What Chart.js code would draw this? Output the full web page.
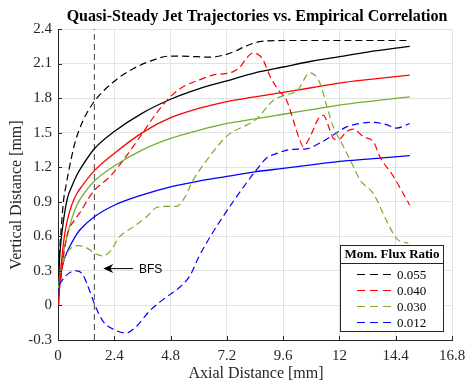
<!DOCTYPE html>
<html><head><meta charset="utf-8">
<script src="https://cdn.jsdelivr.net/npm/chart.js@4.4.1/dist/chart.umd.min.js"></script>
<style>html,body{margin:0;padding:0;background:#fff}</style>
</head><body>
<canvas id="c" width="465" height="382" style="width:465px;height:382px;display:block"></canvas>
<script>
// ---- Data ----
const chartTitle = 'Quasi-Steady Jet Trajectories vs. Empirical Correlation';
const xAxisTitle = 'Axial Distance [mm]';
const yAxisTitle = 'Vertical Distance [mm]';
const xTicks = [0, 2.4, 4.8, 7.2, 9.6, 12, 14.4, 16.8];
const xTickLabels = ['0', '2.4', '4.8', '7.2', '9.6', '12', '14.4', '16.8'];
const yTicks = [-0.3, 0, 0.3, 0.6, 0.9, 1.2, 1.5, 1.8, 2.1, 2.4];
const yTickLabels = ['-0.3', '0', '0.3', '0.6', '0.9', '1.2', '1.5', '1.8', '2.1', '2.4'];
const seriesNames = ['0.055', '0.040', '0.030', '0.012'];
const legendTitle = 'Mom. Flux Ratio';

// empirical correlation (solid)
const corrX = [0.03, 0.08, 0.15, 0.25, 0.4, 0.6, 0.8, 1.0, 1.55, 2.4, 3.6, 4.8, 6, 7.2, 8.4, 9.6, 10.8, 12, 13.2, 15];
const corr055 = [0.25, 0.45, 0.60, 0.76, 0.93, 1.04, 1.13, 1.20, 1.36, 1.51, 1.67, 1.79, 1.88, 1.95, 2.02, 2.07, 2.12, 2.16, 2.20, 2.25];
const corr040 = [0.00, 0.20, 0.38, 0.57, 0.74, 0.88, 0.97, 1.03, 1.17, 1.32, 1.50, 1.63, 1.71, 1.77, 1.81, 1.85, 1.89, 1.93, 1.96, 2.00];
const corr030 = [0.15, 0.25, 0.36, 0.48, 0.61, 0.76, 0.87, 0.94, 1.08, 1.21, 1.35, 1.45, 1.52, 1.58, 1.62, 1.66, 1.70, 1.74, 1.77, 1.81];
const corr012 = [0.08, 0.20, 0.30, 0.39, 0.47, 0.55, 0.62, 0.67, 0.77, 0.87, 0.96, 1.03, 1.08, 1.12, 1.16, 1.19, 1.22, 1.25, 1.27, 1.30];

// quasi-steady trajectories (dashed)
const exp055X = [0.05, 0.13, 0.23, 0.35, 0.44, 0.72, 1.08, 1.58, 2.36, 3.07, 3.92, 4.78, 5.9, 6.4, 7.0, 7.47, 8.0, 8.6, 9.6, 12, 15];
const exp055Y = [0.42, 0.65, 0.90, 1.05, 1.15, 1.41, 1.61, 1.78, 1.94, 2.04, 2.12, 2.165, 2.16, 2.155, 2.17, 2.20, 2.25, 2.29, 2.30, 2.30, 2.30];
const exp040X = [0.12, 0.25, 0.4, 0.7, 0.95, 1.3, 1.55, 2.22, 2.78, 3.5, 4.2, 4.78, 5.35, 6.05, 6.6, 7.2, 7.47, 7.76, 8.05, 8.3, 8.6, 8.75, 9.04, 9.4, 9.75, 10.03, 10.3, 10.46, 10.75, 11.1, 11.31, 11.6, 11.74, 11.95, 12.31, 12.6, 13.02, 13.45, 13.73, 14.3, 15.0];
const exp040Y = [0.22, 0.45, 0.62, 0.74, 0.81, 0.93, 1.00, 1.12, 1.26, 1.465, 1.67, 1.81, 1.90, 1.96, 2.00, 2.015, 2.03, 2.07, 2.15, 2.19, 2.17, 2.13, 1.99, 1.87, 1.78, 1.61, 1.44, 1.38, 1.465, 1.62, 1.65, 1.52, 1.45, 1.44, 1.51, 1.53, 1.465, 1.42, 1.29, 1.12, 0.87];
const exp030X = [0.08, 0.37, 0.87, 1.22, 1.58, 1.93, 2.22, 2.64, 3.2, 3.78, 4.2, 4.63, 5.06, 5.35, 5.77, 6.34, 7.2, 8.47, 9.18, 9.75, 10.18, 10.75, 11.17, 11.46, 11.74, 12.17, 12.6, 12.88, 13.45, 14.0, 14.44, 14.94];
const exp030Y = [0.28, 0.45, 0.52, 0.50, 0.45, 0.43, 0.47, 0.60, 0.68, 0.77, 0.85, 0.86, 0.86, 0.92, 1.09, 1.26, 1.47, 1.62, 1.78, 1.83, 1.86, 2.02, 1.93, 1.73, 1.55, 1.38, 1.205, 1.09, 0.97, 0.74, 0.58, 0.54];
const exp012X = [0.05, 0.3, 0.55, 0.8, 1.05, 1.25, 1.6, 1.93, 2.4, 2.9, 3.3, 3.9, 4.6, 5.2, 5.63, 6.0, 6.5, 7.0, 7.5, 8.47, 8.9, 9.33, 10.0, 10.6, 11.17, 11.74, 12.31, 12.88, 13.45, 14.0, 14.44, 15.0];
const exp012Y = [0.18, 0.25, 0.29, 0.30, 0.27, 0.18, -0.01, -0.14, -0.21, -0.24, -0.19, -0.05, 0.07, 0.16, 0.26, 0.42, 0.60, 0.76, 0.91, 1.18, 1.28, 1.32, 1.355, 1.36, 1.41, 1.48, 1.55, 1.58, 1.59, 1.57, 1.54, 1.58];

const bfsX = 1.55;            // backward-facing step location
const bfsLineY = [-0.3, 2.4];
const bfsLabel = 'BFS';
const bfsArrow = {x0: 3.2, x1: 1.93, y: 0.32, textX: 3.45};

const colors = ['#000000', '#ff0000', '#77ac30', '#0000ff'];

// ---- Build ----
const pts = (xs, ys) => xs.map((x, i) => ({x: x, y: ys[i]}));
const corrY = [corr055, corr040, corr030, corr012];
const expXs = [exp055X, exp040X, exp030X, exp012X];
const expYs = [exp055Y, exp040Y, exp030Y, exp012Y];

const datasets = [];
datasets.push({
  label: 'BFS', data: [{x: bfsX, y: bfsLineY[0]}, {x: bfsX, y: bfsLineY[1]}],
  borderColor: '#404040', borderWidth: 1, borderDash: [6, 4], pointRadius: 0, order: 10
});
for (let i = 0; i < 4; i++) {
  datasets.push({
    label: 'corr ' + seriesNames[i], data: pts(corrX, corrY[i]),
    borderColor: colors[i], borderWidth: 1.3, pointRadius: 0, cubicInterpolationMode: 'monotone', order: 5
  });
}
for (let i = 0; i < 4; i++) {
  datasets.push({
    label: seriesNames[i], data: pts(expXs[i], expYs[i]),
    borderColor: colors[i], borderWidth: 1.2, borderDash: [7, 4], pointRadius: 0, cubicInterpolationMode: 'monotone', order: 1
  });
}

const SERIF = '"Liberation Serif", "Times New Roman", serif';
const SANS = '"Liberation Sans", Arial, sans-serif';

const overlay = {
  id: 'overlay',
  afterDraw(chart) {
    const ctx = chart.ctx;
    const xs = chart.scales.x, ys = chart.scales.y;
    const ca = chart.chartArea;
    ctx.save();
    // inward ticks
    ctx.strokeStyle = '#262626'; ctx.lineWidth = 1; ctx.setLineDash([]);
    xTicks.forEach(v => {
      const px = Math.round(xs.getPixelForValue(v)) + 0.5;
      ctx.beginPath(); ctx.moveTo(px, ca.bottom); ctx.lineTo(px, ca.bottom - 4); ctx.stroke();
    });
    yTicks.forEach(v => {
      const py = Math.round(ys.getPixelForValue(v)) + 0.5;
      ctx.beginPath(); ctx.moveTo(ca.left, py); ctx.lineTo(ca.left + 4, py); ctx.stroke();
    });
    // title
    ctx.fillStyle = '#000';
    ctx.font = 'bold 16px ' + SERIF;
    ctx.textAlign = 'center'; ctx.textBaseline = 'middle';
    ctx.fillText(chartTitle, 257, 17);
    // axis titles
    ctx.fillStyle = '#262626';
    ctx.font = '16px ' + SERIF;
    ctx.fillText(xAxisTitle, 256, 374);
    ctx.save();
    ctx.translate(17, 195); ctx.rotate(-Math.PI / 2);
    ctx.fillText(yAxisTitle, 0, 0);
    ctx.restore();
    // BFS arrow
    const ax0 = xs.getPixelForValue(bfsArrow.x0), ax1 = xs.getPixelForValue(bfsArrow.x1);
    const ay = ys.getPixelForValue(bfsArrow.y);
    ctx.strokeStyle = '#000'; ctx.lineWidth = 1;
    ctx.beginPath(); ctx.moveTo(ax0, ay); ctx.lineTo(ax1 + 6, ay); ctx.stroke();
    ctx.fillStyle = '#000';
    ctx.beginPath();
    ctx.moveTo(ax1, ay); ctx.lineTo(ax1 + 10, ay - 4.5); ctx.lineTo(ax1 + 7, ay); ctx.lineTo(ax1 + 10, ay + 4.5);
    ctx.closePath(); ctx.fill();
    ctx.font = '12px ' + SANS; ctx.textAlign = 'left';
    ctx.fillText(bfsLabel, xs.getPixelForValue(bfsArrow.textX), ay + 1);
    // legend
    const lx = 340.5, ly = 245.5, lw = 103, lh = 86;
    ctx.fillStyle = '#fff'; ctx.fillRect(lx, ly, lw, lh);
    ctx.strokeStyle = '#262626'; ctx.lineWidth = 1;
    ctx.strokeRect(lx, ly, lw, lh);
    ctx.beginPath(); ctx.moveTo(lx, 263.5); ctx.lineTo(lx + lw, 263.5); ctx.stroke();
    ctx.fillStyle = '#000'; ctx.font = 'bold 13px ' + SERIF; ctx.textAlign = 'center';
    ctx.fillText(legendTitle, lx + lw / 2, 254.5);
    ctx.font = '13px ' + SERIF; ctx.textAlign = 'left';
    const rows = [274.5, 290.5, 306.5, 322.5];
    for (let i = 0; i < 4; i++) {
      ctx.strokeStyle = colors[i]; ctx.lineWidth = 1.2; ctx.setLineDash([8, 5]);
      ctx.beginPath(); ctx.moveTo(357, rows[i]); ctx.lineTo(396, rows[i]); ctx.stroke();
      ctx.setLineDash([]);
      ctx.fillStyle = '#000';
      ctx.fillText(seriesNames[i], 397, rows[i] + 1);
    }
    ctx.restore();
  }
};

new Chart(document.getElementById('c'), {
  type: 'line',
  data: {datasets: datasets},
  plugins: [overlay],
  options: {
    responsive: false, animation: false,
    layout: {padding: {left: 0, right: 13, top: 29, bottom: 0}},
    plugins: {legend: {display: false}, title: {display: false}, tooltip: {enabled: false}},
    scales: {
      x: {
        type: 'linear', min: 0, max: 16.8,
        afterBuildTicks: s => { s.ticks = xTicks.map(v => ({value: v})); },
        afterFit: s => { s.height = 42; s.paddingLeft = 0; s.paddingRight = 0; },
        ticks: {callback: (v, i) => xTickLabels[i], font: {family: SERIF, size: 15}, color: '#262626', padding: 7, maxRotation: 0, autoSkip: false},
        grid: {color: '#e2e2e2', drawTicks: false},
        border: {display: true, color: '#262626', width: 1}
      },
      y: {
        type: 'linear', min: -0.3, max: 2.4,
        afterBuildTicks: s => { s.ticks = yTicks.map(v => ({value: v})); },
        afterFit: s => { s.width = 58; s.paddingTop = 0; s.paddingBottom = 0; },
        ticks: {callback: (v, i) => yTickLabels[i], font: {family: SERIF, size: 15}, color: '#262626', padding: 6, autoSkip: false},
        grid: {color: '#e2e2e2', drawTicks: false},
        border: {display: true, color: '#262626', width: 1}
      }
    }
  }
});
</script>
</body></html>
